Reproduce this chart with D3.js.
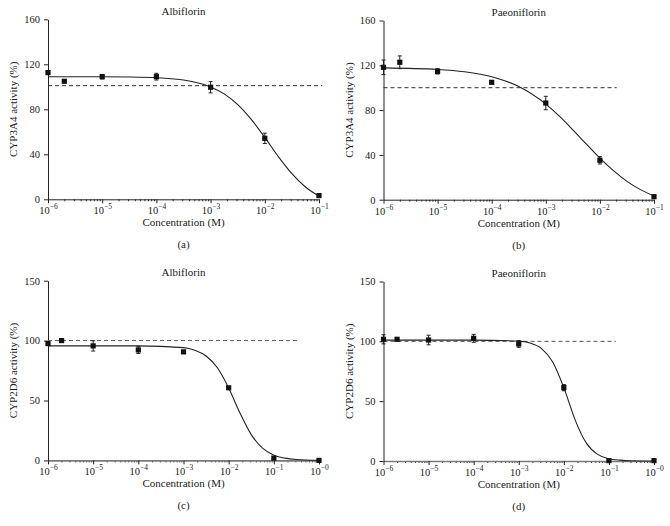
<!DOCTYPE html>
<html><head><meta charset="utf-8">
<script src="https://cdn.jsdelivr.net/npm/d3@7"></script>
<style>
body{margin:0;background:#fff}
svg{display:block}
text{font-family:"Liberation Serif","Times New Roman",serif;fill:#222}
</style>
</head><body>
<svg id="chart" width="670" height="526"></svg>
<script>
// ---------- data ----------
const titles = ["Albiflorin", "Paeoniflorin", "Albiflorin", "Paeoniflorin"];
const yLabels = ["CYP3A4 activity (%)", "CYP3A4 activity (%)", "CYP2D6 activity (%)", "CYP2D6 activity (%)"];
const panelLetters = ["(a)", "(b)", "(c)", "(d)"];
const xLabel = "Concentration (M)";

const yTicksTop = [0, 40, 80, 120, 160];
const yTicksBottom = [0, 50, 100, 150];
const xTickExpTop = [-6, -5, -4, -3, -2, -1];
const xTickTextTop = ["\u22126", "\u22125", "\u22124", "\u22123", "\u22122", "\u22121"];
const xTickExpBottom = [-6, -5, -4, -3, -2, -1, 0];
const xTickTextBottom = ["\u22126", "\u22125", "\u22124", "\u22123", "\u22122", "\u22121", "\u22120"];

const concTop = [1e-6, 2e-6, 1e-5, 1e-4, 1e-3, 1e-2, 1e-1];
const concBottom = [1e-6, 2e-6, 1e-5, 1e-4, 1e-3, 1e-2, 1e-1, 1e0];

const activityA = [112.6, 104.9, 109.0, 109.0, 99.6, 54.2, 3.3];
const errorA    = [0, 0, 2.0, 3.0, 5.0, 4.6, 0];
const activityB = [118.2, 122.7, 114.6, 104.8, 86.3, 35.2, 2.7];
const errorB    = [6.5, 5.7, 2.4, 0, 6.0, 3.3, 0];
const activityC = [97.5, 100.0, 95.6, 92.2, 90.6, 60.6, 1.9, 0];
const errorC    = [1.5, 1.5, 4.3, 3.0, 0, 0, 0, 0];
const activityD = [101.7, 101.7, 101.1, 102.5, 97.8, 61.3, 0.3, 0.3];
const errorD    = [3.8, 1.0, 4.0, 3.3, 2.8, 2.6, 0, 0];

// fitted curves (log10 concentration -> activity)
const curveLogTop = [-6, -5, -4.5, -4, -3.5, -3, -2.75, -2.5, -2.25, -2, -1.75, -1.5, -1.25, -1];
const curveA = [109.0, 108.9, 108.7, 108.0, 106.0, 99.9, 93.7, 84.2, 71.1, 55.0, 38.0, 22.8, 10.9, 2.8];
const curveB = [117.7, 116.3, 114.2, 109.8, 101.0, 85.3, 74.6, 62.4, 49.6, 37.1, 25.9, 16.4, 9.0, 3.3];
const curveLogBottom = [-6, -5, -4, -3, -2.75, -2.5, -2.25, -2, -1.75, -1.5, -1.25, -1, -0.75, -0.5, 0];
const curveC = [95.6, 95.6, 95.6, 94.1, 91.9, 87.1, 77.3, 60.5, 39.6, 21.5, 10.2, 4.4, 1.9, 0.8, 0.1];
const curveD = [101.0, 101.0, 101.0, 100.2, 98.6, 94.1, 83.0, 61.3, 34.4, 14.9, 5.5, 1.9, 0.7, 0.2, 0.0];

// 100% reference lines (dashed): level and right end (log10 conc)
const refLevel = [101, 100, 100, 100];
const refEndLog = [-0.94, -1.69, -0.49, -0.85];

// ---------- layout ----------
const svg = d3.select("#chart");
const layout = [
  {x0: 48, x1: 319, y0: 19.3, y1: 199.3},
  {x0: 383.5, x1: 654, y0: 20.5, y1: 199.7},
  {x0: 48, x1: 319, y0: 280.7, y1: 460.4},
  {x0: 383.5, x1: 654, y0: 281.5, y1: 461}
];
const panels = [
  {conc: concTop, act: activityA, err: errorA, cx: curveLogTop, cy: curveA, yMax: 160, yTicks: yTicksTop, xExp: xTickExpTop, xTxt: xTickTextTop, bottom: false},
  {conc: concTop, act: activityB, err: errorB, cx: curveLogTop, cy: curveB, yMax: 160, yTicks: yTicksTop, xExp: xTickExpTop, xTxt: xTickTextTop, bottom: false},
  {conc: concBottom, act: activityC, err: errorC, cx: curveLogBottom, cy: curveC, yMax: 150, yTicks: yTicksBottom, xExp: xTickExpBottom, xTxt: xTickTextBottom, bottom: true},
  {conc: concBottom, act: activityD, err: errorD, cx: curveLogBottom, cy: curveD, yMax: 150, yTicks: yTicksBottom, xExp: xTickExpBottom, xTxt: xTickTextBottom, bottom: true}
];

panels.forEach((p, i) => {
  const L = layout[i];
  const xMin = Math.pow(10, p.xExp[0]);
  const xMax = Math.pow(10, p.xExp[p.xExp.length - 1]);
  const x = d3.scaleLog().domain([xMin, xMax]).range([L.x0, L.x1]);
  const y = d3.scaleLinear().domain([0, p.yMax]).range([L.y1, L.y0]);
  const g = svg.append("g");
  const axisColor = p.bottom ? "#7a7a7a" : "#222";

  // minor x ticks
  const minors = [];
  for (let e = p.xExp[0]; e < p.xExp[p.xExp.length - 1]; e++)
    for (let k = 2; k <= 9; k++) minors.push(k * Math.pow(10, e));
  const gMinor = g.append("g").attr("transform", `translate(0,${L.y1})`)
    .call(d3.axisBottom(x).tickValues(minors).tickSize(2).tickSizeOuter(0).tickFormat(() => ""));
  gMinor.select(".domain").remove();
  gMinor.selectAll("line").attr("stroke", "#333");

  // major x ticks + axis line
  const gx = g.append("g").attr("transform", `translate(0,${L.y1})`)
    .call(d3.axisBottom(x).tickValues(p.xExp.map(e => Math.pow(10, e))).tickSize(4).tickSizeOuter(0).tickFormat(() => ""));
  gx.select(".domain").attr("stroke", axisColor).attr("stroke-width", p.bottom ? 1.6 : 1);
  gx.selectAll(".tick line").attr("stroke", "#222");
  gx.selectAll(".tick text").each(function(d, j) {
    const t = d3.select(this).text(null).attr("y", 15).attr("dy", null)
      .attr("font-size", 10.5).attr("fill", "#222").attr("font-family", '"Liberation Serif", serif');
    t.append("tspan").text("10");
    t.append("tspan").attr("dy", -5).attr("font-size", 7.5).text(p.xTxt[j]);
  });

  // y axis
  const gy = g.append("g").attr("transform", `translate(${L.x0},0)`)
    .call(d3.axisLeft(y).tickValues(p.yTicks).tickSize(4).tickPadding(4).tickSizeOuter(0).tickFormat(d3.format("d")));
  gy.select(".domain").attr("stroke", "#222");
  gy.selectAll(".tick line").attr("stroke", "#222");
  gy.selectAll(".tick text").attr("font-size", 10.5).attr("fill", "#222").attr("font-family", '"Liberation Serif", serif');

  // dashed reference line
  g.append("line")
    .attr("x1", x(xMin)).attr("x2", x(Math.pow(10, refEndLog[i])))
    .attr("y1", y(refLevel[i])).attr("y2", y(refLevel[i]))
    .attr("stroke", p.bottom ? "#555" : "#333").attr("stroke-width", 1).attr("stroke-dasharray", "4,3");

  // fitted curve
  const cdata = p.cx.map((lx, j) => [Math.pow(10, lx), p.cy[j]]);
  g.append("path").datum(cdata)
    .attr("d", d3.line().x(d => x(d[0])).y(d => y(d[1])).curve(d3.curveMonotoneX))
    .attr("fill", "none").attr("stroke", "#222").attr("stroke-width", 1.1);

  // error bars
  const pts = p.conc.map((c, j) => ({c, v: p.act[j], e: p.err[j]}));
  const eb = g.append("g").attr("stroke", "#222").attr("stroke-width", 1);
  pts.filter(d => d.e > 0).forEach(d => {
    const cx = x(d.c);
    eb.append("line").attr("x1", cx).attr("x2", cx).attr("y1", y(d.v - d.e)).attr("y2", y(d.v + d.e));
    eb.append("line").attr("x1", cx - 2).attr("x2", cx + 2).attr("y1", y(d.v - d.e)).attr("y2", y(d.v - d.e));
    eb.append("line").attr("x1", cx - 2).attr("x2", cx + 2).attr("y1", y(d.v + d.e)).attr("y2", y(d.v + d.e));
  });

  // markers
  g.selectAll("rect.pt").data(pts).enter().append("rect")
    .attr("x", d => x(d.c) - 2.6).attr("y", d => y(d.v) - 2.6)
    .attr("width", 5.2).attr("height", 5.2).attr("fill", "#111");

  const cxMid = (L.x0 + L.x1) / 2;
  // title
  g.append("text").attr("x", cxMid).attr("y", L.y0 - 4.5).attr("text-anchor", "middle")
    .attr("font-size", 11).text(titles[i]);
  // x label
  g.append("text").attr("x", cxMid).attr("y", L.y1 + 27).attr("text-anchor", "middle")
    .attr("font-size", 11).text(xLabel);
  // panel letter
  g.append("text").attr("x", cxMid).attr("y", L.y1 + 49).attr("text-anchor", "middle")
    .attr("font-size", 11).text(panelLetters[i]);
  // y label
  const yl = L.x0 - 31;
  g.append("text").attr("transform", `translate(${yl},${(L.y0 + L.y1) / 2}) rotate(-90)`)
    .attr("text-anchor", "middle").attr("font-size", 11).text(yLabels[i]);
});
</script>
</body></html>
